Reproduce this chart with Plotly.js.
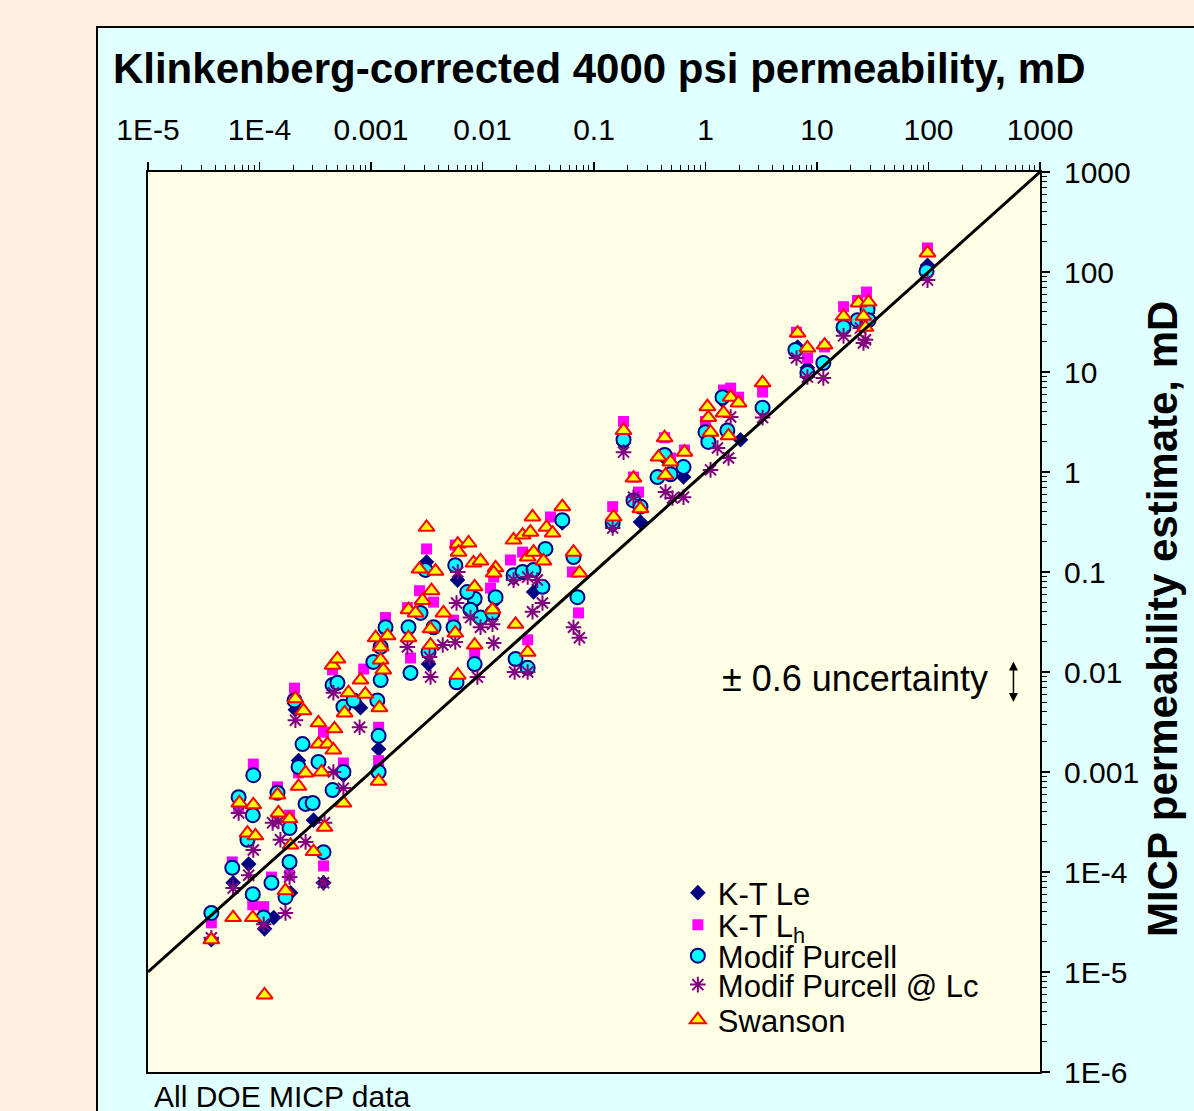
<!DOCTYPE html>
<html>
<head>
<meta charset="utf-8">
<script src="https://cdn.plot.ly/plotly-3.0.1.min.js"></script>
<style>
  html, body { margin: 0; padding: 0; width: 1194px; height: 1111px; overflow: hidden; background: #FEEEE2; }
  #frame { position: absolute; left: 96px; top: 26px; width: 1100px; height: 1090px; border: 2px solid #000; background: #E0FFFF; }
  #chart { width: 1100px; height: 1090px; }
</style>
</head>
<body>
<div id="frame"><div id="chart"></div></div>
<script>
// Klinkenberg-corrected permeability (x) vs. MICP-based estimates (y), mD

// K-T Le
const ktLeX = [3.7e-5, 1.11e-4, 1.34e-4, 1.9e-4, 5.8e-5, 8.0e-5, 3.75e-4, 3.05e-4, 2.24e-4, 1.17e-3,
  2.1e-4, 8.05e-4, 3.15e-3, 5.97e-3, 3.28e-3, 2.87e-2, 0.261, 0.635, 2.06, 98,
  6.7, 8.2, 8.7e-5, 1.86e-4, 5.66e-4, 1.35e-3, 8.5e-3, 1.31e-2, 1.9e-2, 5.2e-2,
  0.147, 0.184, 0.43, 1.42, 3.25, 17.3, 28.4];
const ktLeY = [2.1e-5, 2.7e-5, 3.5e-5, 6.2e-5, 7.8e-5, 1.2e-4, 7.8e-5, 3.3e-4, 1.3e-3, 1.7e-3,
  4.2e-3, 4.4e-3, 0.126, 0.083, 0.012, 0.063, 0.316, 0.89, 2.1, 117,
  17.8, 11, 5.6e-5, 1.17e-4, 9.3e-4, 0.026, 0.05, 0.052, 0.087, 0.31,
  0.29, 1.95, 1.38, 5.2, 4.2, 26, 39];

// K-T Lh
const ktLhX = [3.7e-5, 1.09e-4, 8.7e-5, 1.28e-4, 5.7e-5, 1.86e-4, 3.75e-4, 1.86e-4, 6.5e-5, 8.8e-5,
  1.45e-4, 2.24e-4, 5.66e-4, 1.17e-3, 1.35e-3, 2.06e-4, 4.52e-4, 8.6e-4, 3.75e-4, 1.17e-3,
  3.15e-3, 5.7e-3, 1.26e-2, 1.18e-2, 2.72e-3, 3.64e-3, 2.12e-3, 5.5e-3, 2.26e-3, 8.5e-3,
  2.54e-2, 4.07e-2, 1.78e-2, 2.29e-2, 6.4e-2, 7.26e-2, 0.147, 0.184, 0.226, 0.251,
  0.43, 0.485, 0.648, 1.45, 1.68, 1.98, 1.0, 3.25, 98, 17.3,
  27.8, 23.1, 6.55, 8.22, 11.7];
const ktLhY = [3.1e-5, 4.5e-5, 4.7e-5, 8.9e-5, 1.26e-4, 9.3e-5, 1.15e-4, 3.7e-4, 4.4e-4, 1.2e-3,
  7.1e-4, 9.8e-4, 1.23e-3, 1.3e-3, 0.035, 6.9e-3, 0.0105, 0.0107, 2.5e-3, 2.8e-3,
  0.17, 0.186, 0.089, 0.069, 0.065, 0.05, 0.044, 0.033, 0.0138, 0.0155,
  0.021, 0.355, 0.132, 0.158, 0.1, 0.039, 0.45, 3.2, 0.89, 0.63,
  2.2, 1.38, 1.66, 6.6, 6.9, 5.6, 3.2, 6.3, 174, 45,
  63, 52, 25, 13.8, 17.8];

// Modif Purcell
const purcellX = [3.7e-5, 1.09e-4, 8.7e-5, 1.28e-4, 1.71e-4, 5.7e-5, 1.86e-4, 3.75e-4, 1.86e-4, 7.8e-5,
  6.5e-5, 8.7e-5, 8.8e-5, 1.45e-4, 2.24e-4, 2.59e-4, 3.0e-4, 3.38e-4, 4.52e-4, 5.66e-4,
  2.43e-4, 1.17e-3, 1.35e-3, 1.22e-3, 1.05e-3, 1.22e-3, 1.14e-3, 2.06e-4, 4.52e-4, 5.0e-4,
  5.66e-4, 6.97e-4, 1.17e-3, 3.08e-3, 5.7e-3, 8.5e-3, 7.3e-3, 7.8e-3, 9.6e-3, 1.31e-2,
  1.23e-2, 2.78e-3, 5.5e-3, 2.17e-3, 3.64e-3, 3.28e-3, 2.26e-3, 8.5e-3, 5.85e-3, 1.98e-2,
  2.54e-2, 5.2e-2, 1.9e-2, 2.29e-2, 2.87e-2, 3.67e-2, 3.45e-2, 6.55e-2, 7.1e-2, 0.147,
  0.184, 0.226, 0.261, 0.43, 0.371, 0.485, 0.635, 1.42, 1.0, 1.57,
  1.06, 3.25, 96, 17.3, 28.4, 23.1, 29, 6.4, 8.2, 11.4];
const purcellY = [3.9e-5, 3.5e-5, 6.0e-5, 7.8e-5, 5.6e-5, 1.1e-4, 1.26e-4, 1.58e-4, 2.75e-4, 2.1e-4,
  5.6e-4, 3.7e-4, 9.3e-4, 6.2e-4, 1.12e-3, 4.8e-4, 4.9e-4, 1.26e-3, 6.6e-4, 1.0e-3,
  1.9e-3, 1.0e-3, 0.028, 0.0178, 0.0126, 8.3e-3, 5.2e-3, 5.2e-3, 7.4e-3, 7.8e-3,
  4.5e-3, 5.2e-3, 2.3e-3, 0.105, 0.117, 0.054, 0.063, 0.042, 0.035, 0.056,
  0.039, 0.039, 0.028, 0.028, 0.028, 0.0158, 9.8e-3, 0.012, 7.9e-3, 0.0135,
  0.011, 0.33, 0.093, 0.1, 0.105, 0.17, 0.071, 0.141, 0.056, 0.31,
  2.1, 0.52, 0.45, 1.48, 0.89, 0.95, 1.12, 5.6, 2.5, 2.6,
  2.0, 4.4, 102, 28, 42, 33, 33, 16.6, 9.8, 12.3];

// Modif Purcell @ Lc
const purcellLcX = [3.7e-5, 1.09e-4, 1.71e-4, 5.8e-5, 8.0e-5, 1.86e-4, 3.75e-4, 3.83e-4, 2.59e-4, 1.54e-4,
  1.31e-4, 8.8e-5, 6.5e-5, 1.48e-4, 5.66e-4, 4.6e-4, 2.1e-4, 4.6e-4, 7.9e-4, 6.0e-3,
  7.8e-3, 9.6e-3, 5.85e-3, 1.23e-2, 1.26e-2, 5.7e-3, 4.4e-3, 3.35e-3, 3.42e-3, 2.12e-3,
  9.0e-3, 1.94e-2, 2.54e-2, 1.9e-2, 2.54e-2, 3.1e-2, 3.45e-2, 2.81e-2, 6.55e-2, 7.4e-2,
  0.147, 0.184, 0.226, 0.438, 0.635, 0.506, 1.28, 1.61, 1.11, 1.68,
  3.25, 98, 17.3, 24.5, 27.2, 26.1, 6.55, 8.2, 11.4];
const purcellLcY = [2.2e-5, 3.0e-5, 3.9e-5, 6.9e-5, 9.3e-5, 8.9e-5, 7.8e-5, 3.1e-4, 2.0e-4, 2.1e-4,
  3.1e-4, 1.66e-4, 3.9e-4, 3.2e-4, 6.9e-4, 1.0e-3, 3.3e-3, 6.2e-3, 2.8e-3, 0.1,
  0.035, 0.028, 0.049, 0.03, 0.0195, 0.02, 0.0186, 0.0141, 8.9e-3, 0.0178,
  8.9e-3, 0.01, 0.01, 0.083, 0.089, 0.083, 0.049, 0.04, 0.028, 0.022,
  0.275, 1.58, 0.56, 0.63, 0.56, 0.55, 1.74, 1.38, 1.05, 3.55,
  3.5, 83, 23, 27.5, 21, 19.5, 13.8, 8.9, 8.7];

// Swanson
const swansonX = [3.7e-5, 5.8e-5, 1.11e-4, 8.7e-5, 1.71e-4, 3.05e-4, 3.83e-4, 1.9e-4, 1.86e-4, 7.8e-5,
  9.2e-5, 6.6e-5, 8.8e-5, 1.45e-4, 1.48e-4, 2.24e-4, 2.59e-4, 3.6e-4, 5.66e-4, 3.38e-4,
  4.07e-4, 4.6e-4, 1.17e-3, 1.1e-3, 1.41e-3, 1.22e-3, 1.22e-3, 1.29e-3, 1.19e-3, 2.1e-4,
  2.48e-4, 4.52e-4, 5.0e-4, 6.28e-4, 5.8e-4, 8.05e-4, 8.9e-4, 3.38e-4, 4.7e-4, 3.15e-3,
  2.72e-3, 3.79e-3, 6.0e-3, 6.1e-3, 7.5e-3, 8.3e-3, 9.6e-3, 1.31e-2, 1.26e-2, 3.49e-3,
  2.9e-3, 2.17e-3, 2.51e-3, 8.5e-3, 1.23e-2, 4.47e-3, 5.7e-3, 3.42e-3, 3.42e-3, 2.17e-3,
  8.5e-3, 6.0e-3, 1.98e-2, 2.54e-2, 1.9e-2, 2.29e-2, 2.81e-2, 2.69e-2, 3.75e-2, 4.25e-2,
  2.54e-2, 2.87e-2, 3.52e-2, 5.2e-2, 6.55e-2, 7.4e-2, 0.15, 0.184, 0.226, 0.261,
  0.43, 0.379, 0.485, 0.438, 0.648, 1.68, 1.98, 1.04, 1.45, 1.06,
  1.11, 1.61, 3.25, 98, 17.3, 23.6, 29, 26.1, 27.2, 6.7,
  8.2, 11.7];
const swansonY = [2.1e-5, 3.5e-5, 5.9e-6, 3.5e-5, 6.5e-5, 1.6e-4, 2.8e-4, 1.86e-4, 3.4e-4, 2.45e-4,
  2.3e-4, 4.9e-4, 4.7e-4, 5.9e-4, 3.9e-4, 7.2e-4, 9.8e-4, 1.0e-3, 4.9e-4, 1.9e-3,
  1.9e-3, 1.66e-3, 8.1e-4, 0.022, 0.023, 0.0178, 0.0132, 0.0105, 4.4e-3, 5.4e-3,
  4.1e-3, 0.0117, 0.0135, 6.2e-3, 3.9e-3, 8.3e-3, 6.0e-3, 3.1e-3, 2.7e-3, 0.28,
  0.107, 0.102, 0.19, 0.158, 0.195, 0.123, 0.129, 0.11, 0.098, 0.065,
  0.052, 0.042, 0.039, 0.071, 0.042, 0.039, 0.0245, 0.027, 0.0186, 0.022,
  0.0186, 9.3e-3, 0.03, 0.0158, 0.209, 0.234, 0.355, 0.25, 0.28, 0.245,
  0.141, 0.158, 0.129, 0.45, 0.158, 0.098, 0.355, 2.6, 0.87, 0.43,
  2.2, 1.41, 1.26, 0.93, 1.58, 5.6, 4.9, 4.5, 3.9, 3.5,
  2.5, 2.3, 7.8, 155, 36, 49, 50, 36, 28, 24.5,
  17.4, 18.6];

// 1:1 reference line
const unityX = [1e-5, 1000];
const unityY = [1e-5, 1000];

const xTickVals = [1e-5, 1e-4, 1e-3, 1e-2, 0.1, 1, 10, 100, 1000];
const xTickText = ['1E-5', '1E-4', '0.001', '0.01', '0.1', '1', '10', '100', '1000'];
const yTickVals = [1e-6, 1e-5, 1e-4, 1e-3, 1e-2, 0.1, 1, 10, 100, 1000];
const yTickText = ['1E-6', '1E-5', '1E-4', '0.001', '0.01', '0.1', '1', '10', '100', '1000'];

const FONT = 'Liberation Sans, Arial, Helvetica, sans-serif';

function minorVals(lo, hi) {
  const v = [];
  for (let k = lo; k < hi; k++) for (let m = 2; m < 10; m++) v.push(m * Math.pow(10, k));
  return v;
}

const traces = [
  { x: ktLeX, y: ktLeY, name: 'K-T Le', legend: 'legend', type: 'scatter', mode: 'markers',
    marker: { symbol: 'diamond', size: 12, color: '#000080' } },
  { x: ktLhX, y: ktLhY, name: 'K-T L<sub>h</sub>', legend: 'legend2', type: 'scatter', mode: 'markers',
    marker: { symbol: 'square', size: 11, color: '#FF00FF' } },
  { x: purcellX, y: purcellY, name: 'Modif Purcell', legend: 'legend3', type: 'scatter', mode: 'markers',
    marker: { symbol: 'circle', size: 14, color: '#00FFFF', line: { color: '#000080', width: 2 } } },
  { x: purcellLcX, y: purcellLcY, name: 'Modif Purcell @ Lc', legend: 'legend4', type: 'scatter', mode: 'markers',
    marker: { symbol: 'asterisk-open', size: 13, color: '#800080', line: { color: '#800080', width: 2 } } },
  { x: swansonX, y: swansonY, name: 'Swanson', legend: 'legend5', type: 'scatter', mode: 'markers',
    marker: { symbol: 'triangle-up', size: 14, color: '#FFFF00', line: { color: '#FF0000', width: 2 } } },
  { x: unityX, y: unityY, type: 'scatter', mode: 'lines', showlegend: false,
    line: { color: '#000000', width: 3 }, hoverinfo: 'skip' }
];

function legendAt(yPaper) {
  return {
    x: 0.594, xanchor: 'left', y: yPaper, yanchor: 'middle',
    bgcolor: 'rgba(0,0,0,0)', borderwidth: 0,
    font: { family: FONT, size: 31, color: '#000' },
    itemclick: false, itemdoubleclick: false
  };
}

const axisCommon = {
  type: 'log', showgrid: false, zeroline: false,
  showline: true, linecolor: '#000', linewidth: 2, mirror: true,
  ticks: 'outside', ticklen: 8, tickwidth: 1.5, tickcolor: '#000',
  tickmode: 'array',
  tickfont: { family: FONT, size: 30, color: '#000' }
};

const layout = {
  width: 1100, height: 1090,
  margin: { l: 50, r: 158, t: 144, b: 46 },
  paper_bgcolor: '#E0FFFF',
  plot_bgcolor: '#FFFFE6',
  showlegend: true,
  title: {
    text: '<b>Klinkenberg-corrected 4000 psi permeability, mD</b>',
    font: { family: FONT, size: 42, color: '#000' },
    xref: 'container', x: 0.0136, xanchor: 'left',
    yref: 'container', y: 0.9628, yanchor: 'middle'
  },
  xaxis: Object.assign({}, axisCommon, {
    side: 'top', range: [-5, 3],
    tickvals: xTickVals, ticktext: xTickText,
    ticklabelstandoff: 10,
    minor: { tickmode: 'array', tickvals: minorVals(-5, 3), ticks: 'outside', ticklen: 5, tickwidth: 1, tickcolor: '#000', showgrid: false }
  }),
  yaxis: Object.assign({}, axisCommon, {
    side: 'right', range: [-6, 3],
    tickvals: yTickVals, ticktext: yTickText,
    ticklabelstandoff: 8,
    minor: { tickmode: 'array', tickvals: minorVals(-6, 3), ticks: 'outside', ticklen: 5, tickwidth: 1, tickcolor: '#000', showgrid: false }
  }),
  legend: legendAt(0.1989),
  legend2: legendAt(0.1633),
  legend3: legendAt(0.1289),
  legend4: legendAt(0.0967),
  legend5: legendAt(0.0578),
  annotations: [
    { text: '<b>MICP permeability estimate, mD</b>', xref: 'paper', yref: 'paper',
      x: 1.1368, y: 0.5033, xanchor: 'center', yanchor: 'middle', textangle: -90, showarrow: false,
      font: { family: FONT, size: 42, color: '#000' } },
    { text: 'All DOE MICP data', xref: 'paper', yref: 'paper',
      x: 0.0045, y: -0.0273, xanchor: 'left', yanchor: 'middle', showarrow: false,
      font: { family: FONT, size: 30, color: '#000' } },
    { text: '\u00B1 0.6 uncertainty', xref: 'x', yref: 'y',
      x: 2.55, y: -2.06, xanchor: 'right', yanchor: 'middle', showarrow: false,
      font: { family: FONT, size: 36, color: '#000' } },
    { text: '', xref: 'x', yref: 'y', axref: 'x', ayref: 'y',
      x: 2.762, y: -2.30, ax: 2.762, ay: -1.88,
      showarrow: true, arrowside: 'end+start', arrowhead: 2, startarrowhead: 2,
      arrowsize: 1.2, startarrowsize: 1.2, arrowwidth: 1.5, arrowcolor: '#000' }
  ]
};

Plotly.newPlot('chart', traces, layout, { staticPlot: true, displayModeBar: false });
</script>
</body>
</html>
